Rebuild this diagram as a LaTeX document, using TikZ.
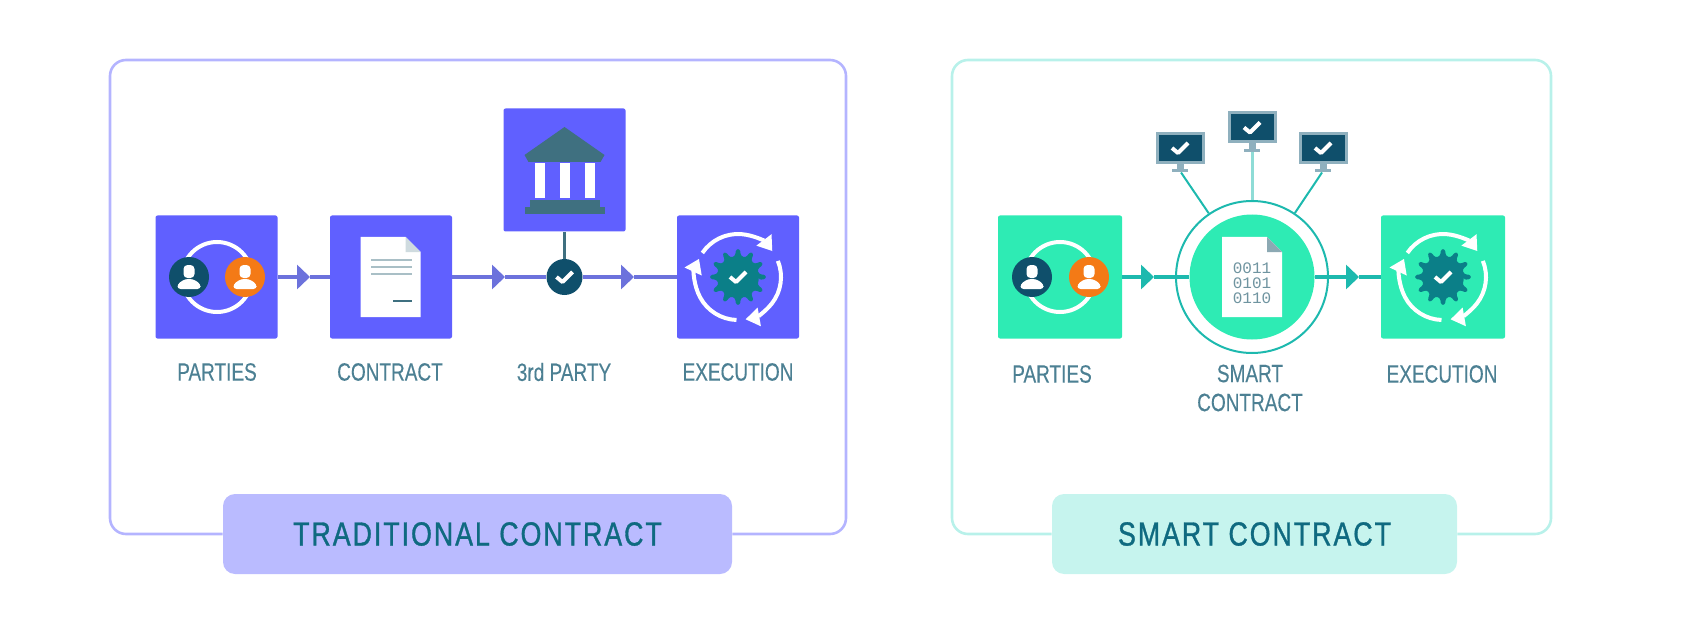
\documentclass[tikz,border=0pt]{standalone}
\usepackage{fontspec}
\setmainfont{Liberation Sans}
\newfontfamily\labelfont[FakeStretch=0.76,FakeBold=0.3]{Liberation Sans}
\newfontfamily\titlefont[FakeStretch=0.8,FakeBold=1,LetterSpace=6]{Liberation Sans}
\newfontfamily\bitsfont{Liberation Mono}
\usetikzlibrary{arrows.meta, calc, positioning}
\definecolor{tileviolet}{HTML}{6060FF}
\definecolor{tilemint}{HTML}{2EEBB4}
\definecolor{lineviolet}{HTML}{6C72DC}
\definecolor{linemint}{HTML}{1DB9AE}
\definecolor{frameviolet}{HTML}{B4B4FF}
\definecolor{framemint}{HTML}{B8F1EA}
\definecolor{pillviolet}{HTML}{BABBFF}
\definecolor{pillmint}{HTML}{C6F4EE}
\definecolor{navy}{HTML}{0F4F6B}
\definecolor{gearteal}{HTML}{0B7F88}
\definecolor{slate}{HTML}{3F7080}
\definecolor{screenedge}{HTML}{8FB0BE}
\definecolor{personorange}{HTML}{F47A16}
\definecolor{labeltext}{HTML}{4C8093}
\definecolor{titletext}{HTML}{0F6A80}
\tikzset{
  tilebox/.style={rectangle, rounded corners=1pt, minimum width=61pt, minimum height=61.5pt, inner sep=0pt},
  caption/.style={font=\labelfont\fontsize{12.5}{14.5}\selectfont, text=labeltext, align=center, inner sep=0pt},
  pill/.style={rectangle, rounded corners=6pt, minimum height=40pt, inner sep=0pt, font=\titlefont\fontsize{16.7}{18}\selectfont, text=titletext},
  frame/.style={line width=1.3pt, rounded corners=8pt},
  badge/.style={circle, minimum size=20pt, inner sep=0pt},
  link/.style={line width=1.6pt},
  tip/.style={-{Triangle[length=6.5pt,width=12pt]}},
  screen/.style={rectangle, fill=navy, draw=screenedge, line width=1.5pt, minimum width=23pt, minimum height=14.5pt, inner sep=0pt, outer sep=0pt},
  neck/.style={rectangle, fill=screenedge, minimum width=3.5pt, minimum height=3.5pt, inner sep=0pt, outer sep=0pt},
  foot/.style={rectangle, fill=screenedge, minimum width=8pt, minimum height=1.5pt, inner sep=0pt, outer sep=0pt},
  pics/person/.style={code={
    \fill[white, rounded corners=2pt] (-5.5,-12) rectangle (5.5,1);
    \fill[white, rounded corners=1.5pt] (-11.5,12) -- (-11.5,7) -- (-4,2) -- (4,2) -- (11.5,7) -- (11.5,12) -- cycle;
  }},
  pics/tick/.style={code={
    \draw[white, line width=2pt, line join=round] (-8,0) -- (-2,5) -- (8,-5);
  }},
  pics/gearmark/.style={code={
    \begin{scope}[y=0.5pt]
    \fill[gearteal, rounded corners=1.2pt] (-8:21)
      \foreach \a in {0,30,...,330}{
        -- ({\a-8}:21) -- ({\a-4}:28) -- ({\a+4}:28) -- ({\a+8}:21)
      } -- cycle;
    \foreach \from/\sweep in {146/-109, 22/-102, -92/-113}{
      \draw[white, line width=2pt, -{Triangle[length=7pt,width=9pt]}] (\from:43) arc[start angle=\from, delta angle=\sweep, radius=43];
    }
    \end{scope}
    \pic at (0,0) {tick};
  }},
  pics/paper/.style={code={
    \fill[white] (-30,-40) -- (15,-40) -- (30,-25) -- (30,40) -- (-30,40) -- cycle;
    \fill[#1] (15,-40) -- (30,-25) -- (15,-25) -- cycle;
  }},
  pics/bankmark/.style={code={
    \fill[slate] (0,-43) -- (40,-15) -- (36,-8) -- (-36,-8) -- (-40,-15) -- cycle;
    \foreach \c in {-25,0,25}{
      \fill[white] (\c-5,-7) rectangle (\c+5,28);
    }
    \fill[slate] (-35,30) rectangle (35,37);
    \fill[slate] (-40,37) rectangle (40,44);
  }},
}
\begin{document}
\begin{tikzpicture}[x=0.5pt, y=-0.5pt]
\useasboundingbox (0,0) rectangle (1690,636);
% title bars
\node[pill, fill=pillviolet, minimum width=254.5pt] (titleold) at (477.5,534) {TRADITIONAL CONTRACT};
\node[pill, fill=pillmint, minimum width=202.5pt] (titlenew) at (1254.5,534) {SMART CONTRACT};
% frames
\draw[frame, frameviolet] (titleold.west) -| (110,60) -| (846,534) -- (titleold.east);
\draw[frame, framemint] (titlenew.west) -| (952,60) -| (1551,534) -- (titlenew.east);
% traditional contract
\node[tilebox, fill=tileviolet] (partiesold) at (216.5,277) {};
\node[tilebox, fill=tileviolet] (paperold) at (391,277) {};
\node[tilebox, fill=tileviolet] (bank) at (564.5,170) {};
\node[tilebox, fill=tileviolet] (runold) at (738,277) {};
\node[badge, minimum size=18pt, fill=navy] (verify) at (564.5,277) {};
\coordinate (arrowa) at (310,277);
\coordinate (arrowb) at (505,277);
\coordinate (arrowc) at (634,277);
\draw[link, lineviolet, tip] (partiesold) -- (arrowa);
\draw[link, lineviolet] (arrowa) -- (paperold);
\draw[link, lineviolet, tip] (paperold) -- (arrowb);
\draw[link, lineviolet] (arrowb) -- (verify);
\draw[link, lineviolet, tip] (verify) -- (arrowc);
\draw[link, lineviolet] (arrowc) -- (runold);
\draw[link, slate] (bank) -- (verify);
\pic at (564.5,277) {tick};
\draw[white, line width=2pt] (217,277) circle (35);
\node[badge, fill=navy] (personaold) at (189,277) {};
\node[badge, fill=personorange] (personbold) at (245,277) {};
\pic at (189,277) {person};
\pic at (245,277) {person};
\pic at (390.5,277) {paper={white!75!slate}};
\foreach \ly in {260,267,274}{
  \draw[slate!45, line width=1pt] (371,\ly) -- (412,\ly);
}
\draw[slate, line width=1.2pt] (393,301) -- (412,301);
\pic at (564.5,170) {bankmark};
\pic at (738,277) {gearmark};
\node[caption] (capa) at (217,372) {PARTIES};
\node[caption] (capb) at (390,372) {CONTRACT};
\node[caption] (capc) at (564,372) {3rd PARTY};
\node[caption] (capd) at (738,372) {EXECUTION};
% smart contract
\node[tilebox, minimum width=62pt, fill=tilemint] (partiesnew) at (1060,277) {};
\node[circle, draw=linemint, line width=1pt, minimum size=76pt, inner sep=0pt] (hubring) at (1252,277) {};
\node[circle, fill=tilemint, minimum size=62.5pt, inner sep=0pt] (hub) at (1252,277) {};
\node[tilebox, minimum width=62pt, fill=tilemint] (runnew) at (1443,277) {};
\coordinate (arrowd) at (1154,277);
\coordinate (arrowe) at (1359,277);
\draw[link, linemint, tip] (partiesnew) -- (arrowd);
\draw[link, linemint] (arrowd) -- (hub);
\draw[link, linemint, tip] (hub) -- (arrowe);
\draw[link, linemint] (arrowe) -- (runnew);
\draw[white, line width=2pt] (1060,277) circle (35);
\node[badge, fill=navy] (personanew) at (1032,277) {};
\node[badge, fill=personorange] (personbnew) at (1089,277) {};
\pic at (1032,277) {person};
\pic at (1089,277) {person};
\pic at (1252,277) {paper={slate!60}};
\node[font=\bitsfont\fontsize{8}{7.5}\selectfont, text=slate!75, align=center, inner sep=0pt] (bits) at (1252,283) {0011\\0101\\0110};
\pic at (1443,277) {gearmark};
\node[screen] (screena) at (1180,148) {};
\node[screen] (screenb) at (1252,127.5) {};
\node[screen] (screenc) at (1323,148) {};
\foreach \s in {a,b,c}{
  \node[neck, below=0pt of screen\s] (neck\s) {};
  \node[foot, below=0pt of neck\s] (foot\s) {};
  \pic at (screen\s) {tick};
}
\draw[line width=1pt, linemint] (foota) -- (hubring);
\draw[line width=1.5pt, linemint!50] (footb) -- (hubring);
\draw[line width=1pt, linemint] (footc) -- (hubring);
\node[caption] (cape) at (1052,374) {PARTIES};
\node[caption] (capf) at (1250,388) {SMART\\CONTRACT};
\node[caption] (capg) at (1442,374) {EXECUTION};
\end{tikzpicture}
\end{document}
